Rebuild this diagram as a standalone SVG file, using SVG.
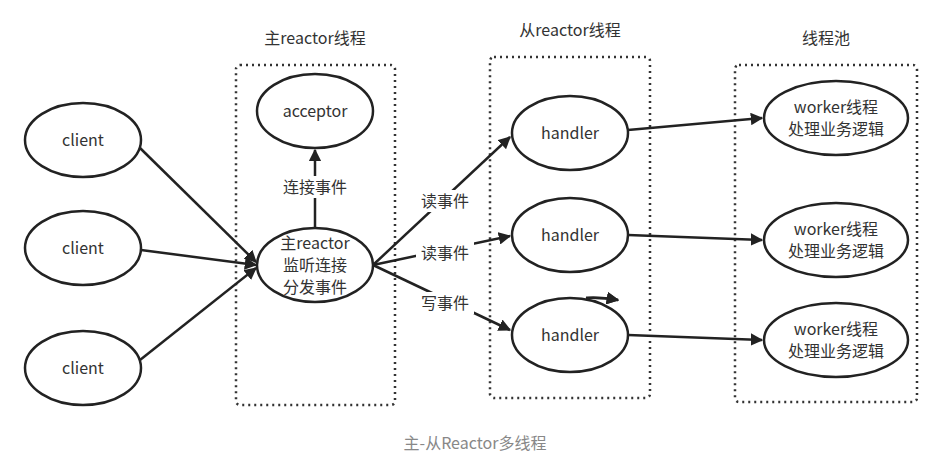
<svg xmlns="http://www.w3.org/2000/svg" width="949" height="466" viewBox="0 0 949 466">
<style>
text{font-family:"Noto Sans CJK SC","Liberation Sans",sans-serif;font-size:16px;fill:#333;text-anchor:middle}
.n ellipse{fill:#fff;stroke:#222;stroke-width:2.5}
.box{fill:none;stroke:#333;stroke-width:2.5;stroke-dasharray:2 4}
.c line,.c path{stroke:#222;stroke-width:2.5;fill:none}
.lbl{fill:#fff}
</style>
<defs><marker id="a" viewBox="0 0 10 10" refX="9" refY="5" markerWidth="5" markerHeight="5" orient="auto"><path d="M0,0L10,5L0,10z" fill="#222"/></marker></defs>
<rect width="949" height="466" fill="#fff"/>
<rect class="box" x="236" y="65" width="159" height="340" rx="4"/>
<rect class="box" x="490" y="57" width="160" height="341" rx="4"/>
<rect class="box" x="735" y="65" width="182" height="337" rx="4"/>
<text x="315" y="44">主reactor线程</text>
<text x="570" y="36">从reactor线程</text>
<text x="826" y="44">线程池</text>
<g class="c">
<line x1="140" y1="148" x2="256" y2="262" marker-end="url(#a)"/>
<line x1="141" y1="250" x2="256" y2="265" marker-end="url(#a)"/>
<line x1="140" y1="360" x2="256" y2="268" marker-end="url(#a)"/>
<line x1="315" y1="228" x2="315" y2="150" marker-end="url(#a)"/>
<line x1="373" y1="265" x2="510" y2="137" marker-end="url(#a)"/>
<line x1="373" y1="265" x2="510" y2="236" marker-end="url(#a)"/>
<line x1="373" y1="265" x2="510" y2="330" marker-end="url(#a)"/>
<line x1="628" y1="130" x2="762" y2="118" marker-end="url(#a)"/>
<line x1="628" y1="235" x2="762" y2="240" marker-end="url(#a)"/>
<line x1="628" y1="335" x2="762" y2="340" marker-end="url(#a)"/>
<path d="M586,298 Q600,297 618,300" marker-end="url(#a)"/>
</g>
<rect class="lbl" x="280" y="176" width="70" height="22"/>
<text x="315" y="193">连接事件</text>
<rect class="lbl" x="416" y="190" width="58" height="22"/>
<text x="445" y="207">读事件</text>
<rect class="lbl" x="416" y="242" width="58" height="22"/>
<text x="445" y="259">读事件</text>
<rect class="lbl" x="416" y="292" width="58" height="22"/>
<text x="445" y="309">写事件</text>
<g class="n" id="client1"><ellipse cx="83" cy="140" rx="58" ry="37"/><text x="83" y="146">client</text></g>
<g class="n" id="client2"><ellipse cx="83" cy="248" rx="58" ry="37"/><text x="83" y="254">client</text></g>
<g class="n" id="client3"><ellipse cx="83" cy="368" rx="58" ry="37"/><text x="83" y="374">client</text></g>
<g class="n" id="acceptor"><ellipse cx="315" cy="111" rx="58" ry="37"/><text x="315" y="117">acceptor</text></g>
<g class="n" id="mainreactor"><ellipse cx="315" cy="265" rx="58" ry="37"/><text x="315" y="249">主reactor</text><text x="315" y="271">监听连接</text><text x="315" y="293">分发事件</text></g>
<g class="n" id="handler1"><ellipse cx="570" cy="133" rx="58" ry="37"/><text x="570" y="139">handler</text></g>
<g class="n" id="handler2"><ellipse cx="570" cy="235" rx="58" ry="37"/><text x="570" y="241">handler</text></g>
<g class="n" id="handler3"><ellipse cx="570" cy="335" rx="58" ry="37"/><text x="570" y="341">handler</text></g>
<g class="c"><path d="M586,298 Q600,297 618,300" marker-end="url(#a)"/></g>
<g class="n" id="worker1"><ellipse cx="836" cy="118" rx="72" ry="37"/><text x="836" y="113">worker线程</text><text x="836" y="135">处理业务逻辑</text></g>
<g class="n" id="worker2"><ellipse cx="836" cy="240" rx="72" ry="37"/><text x="836" y="235">worker线程</text><text x="836" y="257">处理业务逻辑</text></g>
<g class="n" id="worker3"><ellipse cx="836" cy="340" rx="72" ry="37"/><text x="836" y="335">worker线程</text><text x="836" y="357">处理业务逻辑</text></g>
<text x="475" y="449" style="fill:#888">主-从Reactor多线程</text>
</svg>
